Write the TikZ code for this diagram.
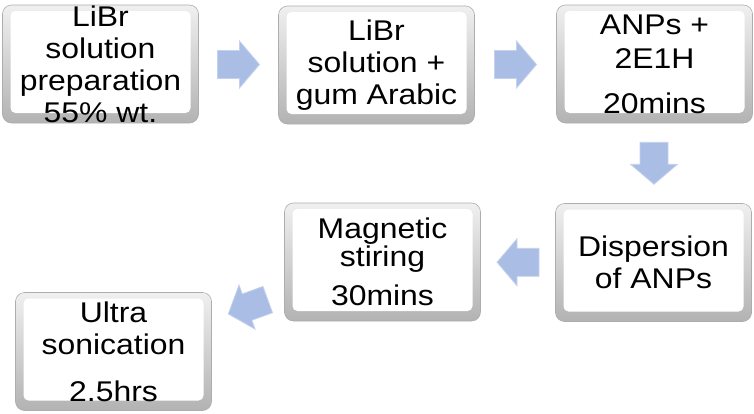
\documentclass[tikz,border=0pt]{standalone}
\usepackage{fontspec}
\setmainfont{Liberation Sans}[FakeStretch=1.12]
\usetikzlibrary{calc}
\definecolor{arrowfill}{RGB}{170,189,228}
\definecolor{arrowline}{RGB}{198,210,237}
\tikzset{
  stepbox/.style={rectangle, rounded corners=9pt, draw=black!32, line width=0.6pt,
    top color=black!6, bottom color=black!30, minimum width=196pt, minimum height=118pt,
    outer sep=0pt, inner sep=0pt, align=center,
    font=\fontsize{28.5pt}{32pt}\selectfont,
    path picture={\fill[white, rounded corners=5pt]
      ([shift={(8pt,-6pt)}]path picture bounding box.north west) rectangle
      ([shift={(-8pt,10pt)}]path picture bounding box.south east);}},
  flow/.style={fill=arrowfill, draw=arrowline, line width=0.8pt, line join=miter}
}
\newcommand{\flowarrow}[2]{\draw[flow, shift={(#1)}, rotate=#2]
  (-21pt,-14pt) -- (1pt,-14pt) -- (1pt,-23.5pt) -- (21pt,0pt) -- (1pt,23.5pt) -- (1pt,14pt) -- (-21pt,14pt) -- cycle;}
\begin{document}
\begin{tikzpicture}[x=1pt,y=-1pt]
  \useasboundingbox (0,0) rectangle (754,413);
  \node[stepbox] (prep) at (100.5,64) {LiBr\\solution\\preparation\\55\% wt.};
  \node[stepbox] (gum) at (376.5,65) {LiBr\\solution +\\gum Arabic};
  \node[stepbox] (anp) at (654.5,64) {ANPs +\\[2pt]2E1H\\[13pt]20mins};
  \node[stepbox] (disp) at (653.5,262.5) {Dispersion\\of ANPs};
  \node[stepbox] (stir) at (382.5,262) {Magnetic\\[-4pt]stiring\\[7pt]30mins};
  \node[stepbox] (sonic) at (113.5,351.5) {Ultra\\sonication\\[15pt]2.5hrs};
  \flowarrow{$(prep.east)!0.5!(gum.west)$}{0}
  \flowarrow{$(gum.east)!0.5!(anp.west)$}{0}
  \flowarrow{$(anp.south)!0.5!(disp.north)$}{-90}
  \flowarrow{$(disp.west)!0.5!(stir.east)$}{180}
  \flowarrow{$(stir.south west)!0.5!(sonic.north east)$}{200}
\end{tikzpicture}
\end{document}
